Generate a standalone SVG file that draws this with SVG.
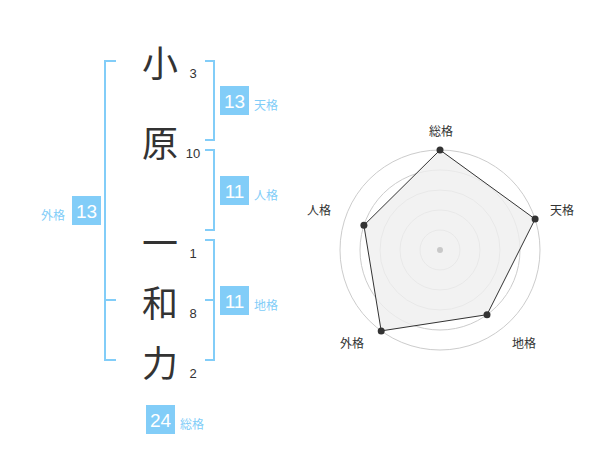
<svg xmlns="http://www.w3.org/2000/svg" width="600" height="470" viewBox="0 0 600 470">
<style>
.ch{font-family:"Noto Sans CJK JP","Noto Sans CJK SC",sans-serif;font-size:36px;fill:#333;text-anchor:middle;dominant-baseline:central}
.num{font-family:"Liberation Sans",Arial,sans-serif;font-size:13px;fill:#333;text-anchor:middle;dominant-baseline:central}
.br{fill:none;stroke:#82cdf8;stroke-width:2}
.box{fill:#82cdf8}
.bn{font-family:"Liberation Sans",Arial,sans-serif;font-size:19px;fill:#fff;text-anchor:middle;dominant-baseline:central}
.bl{font-family:"Noto Sans CJK JP","Noto Sans CJK SC",sans-serif;font-size:12px;fill:#82cdf8;dominant-baseline:central}
.ring{fill:none;stroke:#cccccc;stroke-width:1}
.rl{font-family:"Noto Sans CJK JP","Noto Sans CJK SC",sans-serif;font-size:12px;fill:#333;text-anchor:middle;dominant-baseline:central}
</style>
<rect width="600" height="470" fill="#fff"/>
<g id="chars">
<g id="c1"><text class="ch" x="160" y="61">小</text><text class="num" x="193" y="73">3</text></g>
<g id="c2"><text class="ch" x="160" y="141">原</text><text class="num" x="193" y="153">10</text></g>
<g id="c3"><text class="ch" x="160" y="241">一</text><text class="num" x="193" y="253">1</text></g>
<g id="c4"><text class="ch" x="160" y="301">和</text><text class="num" x="193" y="313">8</text></g>
<g id="c5"><text class="ch" x="160" y="361">力</text><text class="num" x="193" y="373">2</text></g>
</g>
<g id="connectors">
<path class="br" d="M116,61 H105 V360 H116 M105,300 H116"/>
<path class="br" d="M205,61 H214 V140 H205"/>
<path class="br" d="M205,150 H214 V230 H205"/>
<path class="br" d="M205,240 H214 V360 H205 M205,300 H214"/>
</g>
<g id="tenkaku"><rect class="box" x="220" y="86" width="29" height="29"/><text class="bn" x="234.5" y="101">13</text><text class="bl" x="254" y="104">天格</text></g>
<g id="jinkaku"><rect class="box" x="220" y="176" width="29" height="29"/><text class="bn" x="234.5" y="191">11</text><text class="bl" x="254" y="194">人格</text></g>
<g id="chikaku"><rect class="box" x="220" y="286" width="29" height="29"/><text class="bn" x="234.5" y="301">11</text><text class="bl" x="254" y="304">地格</text></g>
<g id="gaikaku"><rect class="box" x="72" y="196" width="29" height="29"/><text class="bn" x="86.5" y="211">13</text><text class="bl" x="41" y="214">外格</text></g>
<g id="soukaku"><rect class="box" x="146" y="405" width="29" height="29"/><text class="bn" x="160.5" y="420">24</text><text class="bl" x="180" y="423">総格</text></g>
<g id="radar">
<circle class="ring" cx="440" cy="250" r="20"/>
<circle class="ring" cx="440" cy="250" r="40"/>
<circle class="ring" cx="440" cy="250" r="60"/>
<circle class="ring" cx="440" cy="250" r="80"/>
<circle class="ring" cx="440" cy="250" r="100"/>
<polygon points="440,150 535.1,219.1 487,314.7 381.2,330.9 363.9,225.3" fill="#efefef" fill-opacity="0.8" stroke="#333" stroke-width="1"/>
<circle cx="440" cy="250" r="3" fill="#c8c8c8"/>
<g fill="#333">
<circle cx="440" cy="150" r="3.5"/>
<circle cx="535.1" cy="219.1" r="3.5"/>
<circle cx="487" cy="314.7" r="3.5"/>
<circle cx="381.2" cy="330.9" r="3.5"/>
<circle cx="363.9" cy="225.3" r="3.5"/>
</g>
<text class="rl" x="441" y="130">総格</text>
<text class="rl" x="562" y="209">天格</text>
<text class="rl" x="524" y="342">地格</text>
<text class="rl" x="352" y="342">外格</text>
<text class="rl" x="319" y="209">人格</text>
</g>
</svg>
